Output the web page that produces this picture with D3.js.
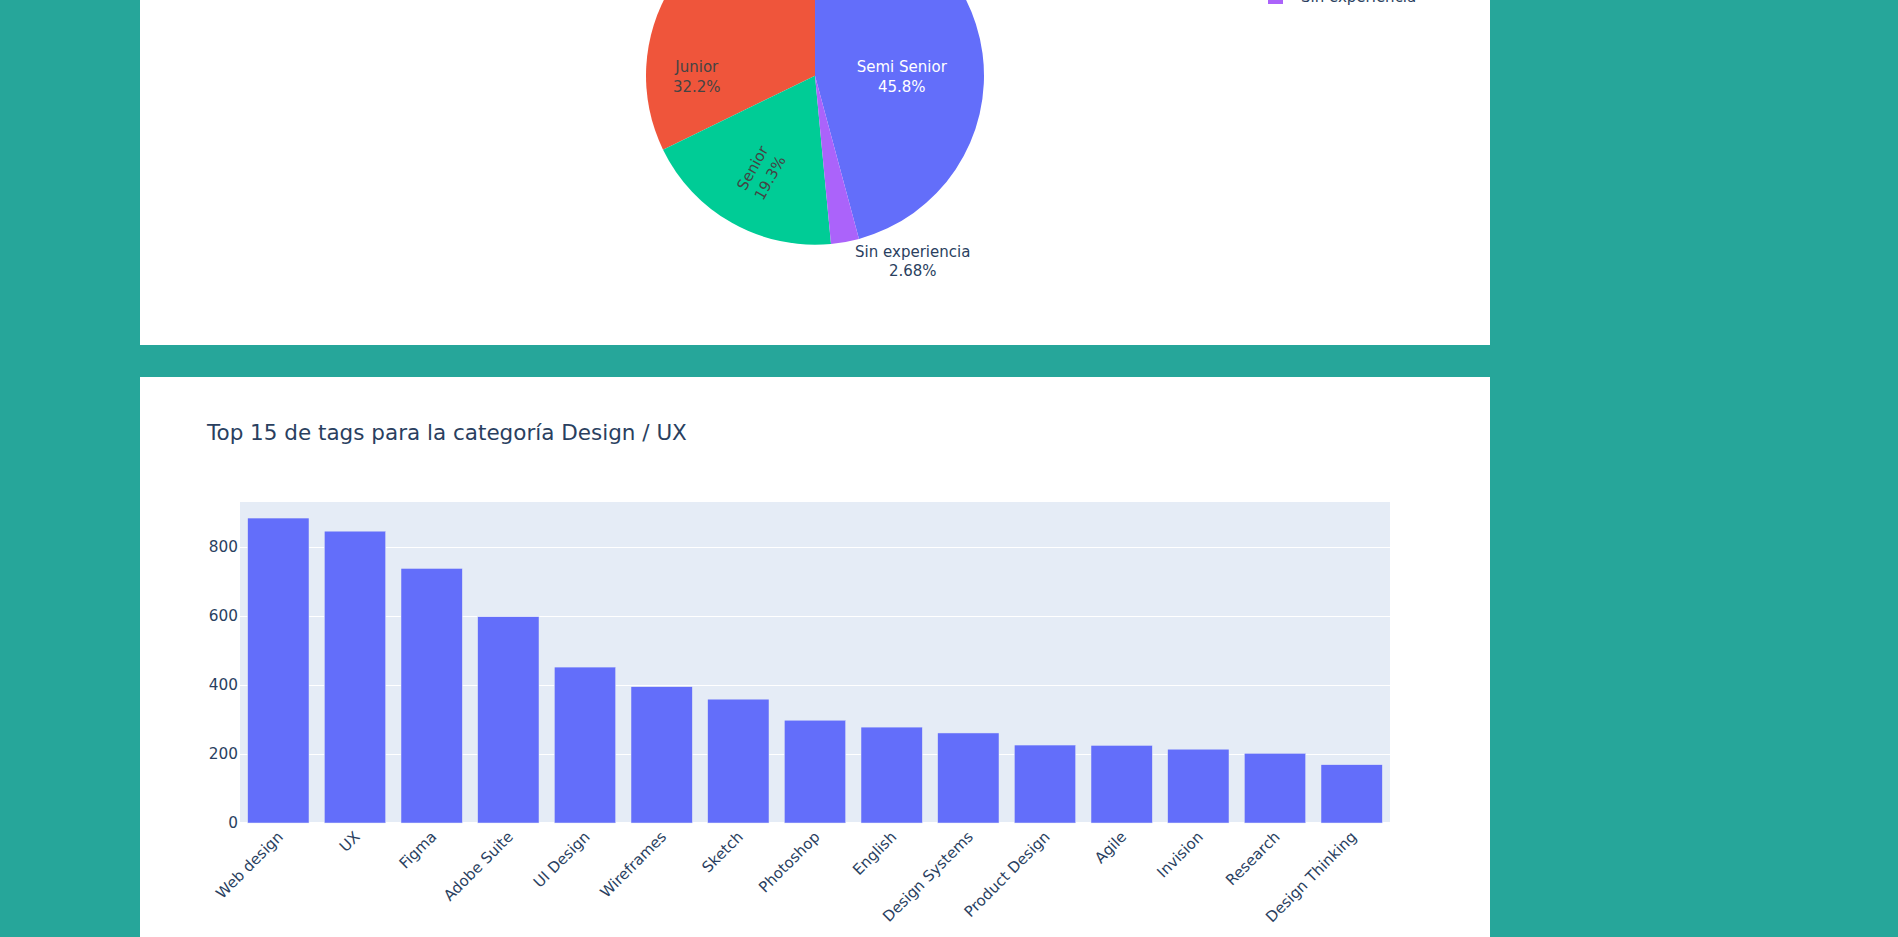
<!DOCTYPE html>
<html><head><meta charset="utf-8">
<script src="https://cdn.jsdelivr.net/npm/d3@7"></script>
<style>
body{margin:0;background:#26a69a;overflow:hidden}
svg{display:block}
text{font-family:"DejaVu Sans",Verdana,sans-serif}
</style>
</head><body>
<svg id="c" width="1898" height="937"></svg>
<script>
// ---- data ----
const pieLabels = ["Semi Senior", "Junior", "Senior", "Sin experiencia"];
const piePercents = [45.8, 32.2, 19.3, 2.68];
const tagCategories = ["Web design", "UX", "Figma", "Adobe Suite", "UI Design", "Wireframes", "Sketch",
  "Photoshop", "English", "Design Systems", "Product Design", "Agile", "Invision", "Research", "Design Thinking"];
const tagCounts = [884, 846, 738, 598, 452, 395, 359, 298, 278, 261, 226, 225, 214, 202, 169];
const yTickValues = [0, 200, 400, 600, 800];
const barTitle = "Top 15 de tags para la categoría Design / UX";

// ---- styles ----
const pieColors = ["#636efa", "#EF553B", "#00cc96", "#ab63fa"];
const inkColor = "#2a3f5f";
const svg = d3.select("#c");

// panels
svg.append("rect").attr("x", 140).attr("y", -60).attr("width", 1350).attr("height", 405).attr("fill", "#fff");
svg.append("rect").attr("x", 140).attr("y", 377).attr("width", 1350).attr("height", 600).attr("fill", "#fff");

// ---- pie ----
const cx = 815, cy = 75.7, R = 169;
const total = d3.sum(piePercents);
const a0 = 2 * Math.PI * piePercents[0] / total;
const pieData = pieLabels.map((l, i) => ({label: l, value: piePercents[i], color: pieColors[i]}));
const pie = d3.pie().sort(null).value(d => d.value).startAngle(a0).endAngle(a0 - 2 * Math.PI);
const arcs = pie(pieData);
const arc = d3.arc().innerRadius(0).outerRadius(R);
const gp = svg.append("g").attr("transform", `translate(${cx},${cy})`);
gp.selectAll("path").data(arcs).join("path").attr("d", arc).attr("fill", d => d.data.color);

const fmt = v => d3.format(".3r")(v) + "%";
const placement = {
  "Semi Senior": {mode: "h", rf: 0.518, color: "#fff"},
  "Junior": {mode: "h", rf: 0.825, color: "#444"},
  "Senior": {mode: "radial", rf: 0.657, color: "#444"},
  "Sin experiencia": {mode: "out", color: inkColor}
};
arcs.forEach(d => {
  const p = placement[d.data.label];
  const mid = (d.startAngle + d.endAngle) / 2;
  const sx = Math.sin(mid), sy = -Math.cos(mid);
  const lines = [d.data.label, fmt(d.data.value)];
  if (p.mode === "h") {
    const t = gp.append("text").attr("text-anchor", "middle").attr("fill", p.color).attr("font-size", 15)
      .attr("transform", `translate(${R * p.rf * sx},0)`);
    lines.forEach((s, i) => t.append("tspan").attr("x", 0).attr("y", -4 + i * 20).text(s));
  } else if (p.mode === "radial") {
    const rot = mid * 180 / Math.PI - 270;
    const t = gp.append("text").attr("text-anchor", "middle").attr("fill", p.color).attr("font-size", 15)
      .attr("transform", `translate(${R * p.rf * sx},${R * p.rf * sy}) rotate(${rot})`);
    lines.forEach((s, i) => t.append("tspan").attr("x", 0).attr("y", -4 + i * 20).text(s));
  } else {
    const ox = R * sx, oy = R * sy;
    const t = gp.append("text").attr("text-anchor", "middle").attr("fill", p.color).attr("font-size", 15);
    const t1 = t.append("tspan").text(lines[0]);
    const w = t1.node().getComputedTextLength();
    const tx = ox + 10 + w / 2;
    t1.attr("x", tx).attr("y", oy + 14.7);
    t.append("tspan").attr("x", tx).attr("y", oy + 14.7 + 19).text(lines[1]);
  }
});

// legend: items stacked upward from the last one; only items reaching into the page are drawn
const legStep = 23.75, legLastY = -3.5;
const gl = svg.append("g");
pieData.forEach((d, i) => {
  const yy = legLastY - (pieData.length - 1 - i) * legStep;
  if (yy < -12) return;
  gl.append("rect").attr("x", 1268).attr("y", yy - 7.5).attr("width", 15).attr("height", 15).attr("fill", d.color);
  gl.append("text").attr("x", 1301).attr("y", yy).attr("dy", "0.35em").attr("font-size", 15)
    .attr("fill", inkColor).text(d.label);
});

// ---- bar chart ----
const L = 240, Rr = 1390, T = 502, B = 823;
const x = d3.scaleBand().domain(tagCategories).range([L, Rr]).paddingInner(0.2).paddingOuter(0.1);
const y = d3.scaleLinear().domain([0, d3.max(tagCounts) / 0.95]).range([B, T]);

svg.append("rect").attr("x", L).attr("y", T).attr("width", Rr - L).attr("height", B - T).attr("fill", "#E5ECF6");

// grid
svg.append("g").attr("transform", `translate(${L},0)`)
  .call(d3.axisLeft(y).tickValues(yTickValues.filter(v => v > 0)).tickSize(-(Rr - L)).tickFormat(""))
  .call(g => g.select(".domain").remove())
  .call(g => g.selectAll("line").attr("stroke", "#fff").attr("stroke-width", 1));
svg.append("line").attr("x1", L).attr("x2", Rr).attr("y1", y(0)).attr("y2", y(0)).attr("stroke", "#fff").attr("stroke-width", 2);

// bars
svg.append("g").selectAll("rect").data(tagCategories).join("rect")
  .attr("x", d => x(d)).attr("width", x.bandwidth())
  .attr("y", (d, i) => y(tagCounts[i])).attr("height", (d, i) => y(0) - y(tagCounts[i]))
  .attr("fill", "#636efa").attr("stroke", "#E5ECF6").attr("stroke-width", 0.5);

// y axis labels
svg.append("g").attr("transform", `translate(${L},0)`)
  .call(d3.axisLeft(y).tickValues(yTickValues).tickSize(0).tickPadding(2).tickFormat(d3.format("d")))
  .call(g => g.select(".domain").remove())
  .call(g => g.selectAll("text").attr("font-size", 15.3).attr("fill", inkColor)
    .attr("font-family", "DejaVu Sans, Verdana, sans-serif"));

// x axis labels
svg.append("g").attr("transform", `translate(0,${B})`)
  .call(d3.axisBottom(x).tickSize(0))
  .call(g => g.select(".domain").remove())
  .call(g => g.selectAll("text").attr("font-size", 15).attr("fill", inkColor)
    .attr("font-family", "DejaVu Sans, Verdana, sans-serif")
    .attr("text-anchor", "end").attr("x", 0).attr("y", 0).attr("dy", "0.35em")
    .attr("transform", "translate(2,11) rotate(-45)"));

// title
svg.append("text").attr("x", 207).attr("y", 440).attr("font-size", 21.5).attr("fill", inkColor).text(barTitle);
</script>
</body></html>
